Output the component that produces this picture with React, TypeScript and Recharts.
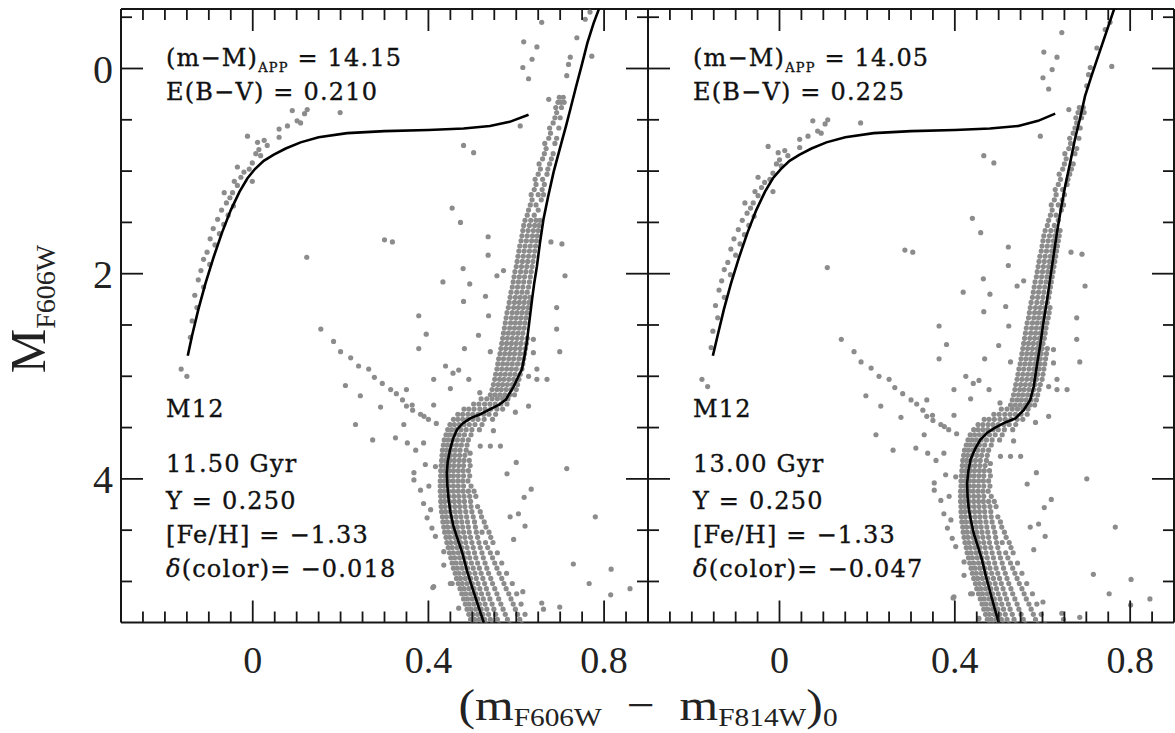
import React from 'react';
import { ScatterChart, Scatter, XAxis, YAxis } from 'recharts';

type Pt = { x: number; y: number };

// axis ticks (colour on x, absolute magnitude on y)
const X_TICKS = [-0.25, -0.2, -0.15, -0.1, -0.05, 0, 0.05, 0.1, 0.15, 0.2, 0.25, 0.3, 0.35, 0.4, 0.45, 0.5, 0.55, 0.6, 0.65, 0.7, 0.75, 0.8, 0.85];
const X_LABELS = [0, 0.4, 0.8];
const Y_TICKS = [-0.5, 0, 0.5, 1, 1.5, 2, 2.5, 3, 3.5, 4, 4.5, 5];
const Y_LABELS = [0, 2, 4];

// M12 stars: [colour, M]
const HB_STARS: [number, number][] = [
  [0.090, 0.41], [0.124, 0.40], [0.118, 0.44], [0.101, 0.51], [0.109, 0.53], [0.079, 0.56], [0.060, 0.59],
  [0.199, 0.43], [-0.012, 0.66], [0.011, 0.72], [0.026, 0.70], [0.060, 0.67], [0.014, 0.79], [0.033, 0.75],
  [0.007, 0.83], [0.018, 0.85], [-0.001, 0.92], [-0.035, 0.96], [-0.020, 1.01], [-0.008, 0.98], [-0.027, 1.06],
  [-0.001, 1.10], [-0.042, 1.10], [-0.035, 1.14], [-0.065, 1.21], [-0.046, 1.21], [-0.052, 1.26], [-0.060, 1.31],
  [-0.044, 1.34], [-0.071, 1.38], [-0.056, 1.43], [-0.080, 1.47], [-0.066, 1.52], [-0.090, 1.56], [-0.076, 1.61],
  [-0.097, 1.66], [-0.086, 1.72], [-0.104, 1.79], [-0.112, 1.86], [-0.098, 1.91], [-0.118, 1.97], [-0.124, 2.06],
  [-0.112, 2.13], [-0.132, 2.21], [-0.127, 2.33], [-0.138, 2.46], [-0.142, 2.62], [-0.163, 2.93], [-0.150, 3.00],
];

const FIELD_STARS: [number, number][] = [
  [0.658, -0.45], [0.617, -0.26], [0.647, -0.21], [0.636, -0.09], [0.615, -0.01], [0.628, 0.10], [0.609, 0.56],
  [0.480, 0.75], [0.503, 0.82], [0.454, 1.36], [0.473, 1.50], [0.536, 1.64], [0.536, 1.82], [0.479, 1.95],
  [0.433, 2.08], [0.494, 2.10], [0.556, 2.02], [0.571, 1.97], [0.530, 2.22], [0.480, 2.27], [0.378, 2.41],
  [0.537, 2.41], [0.395, 2.59], [0.514, 2.60], [0.378, 2.73], [0.482, 2.73], [0.541, 2.76], [0.439, 2.90],
  [0.469, 2.94], [0.412, 3.03], [0.456, 2.97], [0.492, 3.03], [0.450, 3.12], [0.517, 3.16], [0.350, 3.13],
  [0.679, 1.69], [0.704, 1.71], [0.711, 2.02], [0.692, 2.33], [0.692, 2.54], [0.699, 2.76], [0.639, 2.64],
  [0.639, 2.77], [0.647, 2.93], [0.670, 3.03], [0.647, 3.03], [0.628, 3.00], [0.772, -0.12], [0.738, -0.30],
  [0.757, -0.48], [0.768, -0.55], [0.719, -0.04], [0.723, -0.11], [0.715, 0.07], [0.674, 0.30],
  [0.300, 1.67], [0.318, 1.69], [0.123, 1.84],
  [0.155, 2.54], [0.184, 2.66], [0.200, 2.76], [0.223, 2.82], [0.241, 2.90], [0.264, 2.93], [0.277, 3.01],
  [0.295, 3.07], [0.314, 3.13], [0.327, 3.17], [0.341, 3.23], [0.350, 3.29], [0.364, 3.33], [0.382, 3.37],
  [0.400, 3.42], [0.418, 3.46], [0.211, 3.09], [0.245, 3.19], [0.291, 3.30], [0.234, 3.47], [0.273, 3.62],
  [0.325, 3.60], [0.363, 3.28], [0.412, 3.28], [0.344, 3.47], [0.390, 3.39], [0.352, 3.65], [0.371, 3.72],
  [0.389, 3.65], [0.367, 3.94], [0.367, 4.01], [0.393, 3.86], [0.416, 3.88], [0.382, 4.11], [0.401, 4.07],
  [0.389, 4.24], [0.405, 4.30], [0.397, 4.38], [0.408, 4.48], [0.416, 4.56], [0.435, 4.71], [0.412, 5.05],
  [0.450, 5.02], [0.469, 5.26], [0.628, 3.29], [0.598, 3.35], [0.548, 3.53], [0.518, 3.68], [0.541, 3.68],
  [0.564, 3.68], [0.600, 3.84], [0.495, 3.75], [0.579, 3.95], [0.715, 3.90], [0.634, 4.10], [0.618, 4.18],
  [0.586, 4.37], [0.605, 4.34], [0.620, 4.46], [0.594, 4.59], [0.780, 4.37], [0.730, 4.83], [0.816, 4.88],
  [0.766, 5.02], [0.815, 5.13], [0.859, 5.07], [0.615, 5.10], [0.658, 5.21], [0.662, 5.27], [0.699, 5.25],
  [0.410, 5.06], [0.435, 4.84], [0.454, 5.02],
];

// dense giant branch: [M, colour, colour, ...]
const RGB_ROWS: number[][] = [
  [3.18, 0.541, 0.552, 0.563, 0.574, 0.585, 0.596], [3.13, 0.545, 0.556, 0.566, 0.577, 0.588, 0.600],
  [3.08, 0.548, 0.559, 0.569, 0.580, 0.591, 0.603], [3.03, 0.551, 0.562, 0.572, 0.583, 0.594, 0.606],
  [2.98, 0.553, 0.564, 0.575, 0.586, 0.597, 0.609], [2.93, 0.556, 0.567, 0.578, 0.589, 0.600, 0.613],
  [2.88, 0.558, 0.569, 0.580, 0.591, 0.603, 0.615], [2.83, 0.560, 0.571, 0.583, 0.594, 0.606, 0.617],
  [2.78, 0.563, 0.574, 0.585, 0.596, 0.608, 0.619], [2.73, 0.565, 0.576, 0.587, 0.598, 0.609, 0.621],
  [2.68, 0.567, 0.578, 0.589, 0.600, 0.611, 0.623], [2.63, 0.569, 0.580, 0.591, 0.602, 0.613, 0.625],
  [2.58, 0.571, 0.582, 0.593, 0.604, 0.615], [2.53, 0.573, 0.585, 0.596, 0.607, 0.618],
  [2.48, 0.575, 0.587, 0.598, 0.609, 0.620], [2.43, 0.577, 0.589, 0.600, 0.611, 0.622],
  [2.38, 0.579, 0.591, 0.602, 0.613, 0.624], [2.33, 0.582, 0.594, 0.605, 0.616, 0.627],
  [2.28, 0.584, 0.596, 0.607, 0.618, 0.629], [2.23, 0.586, 0.598, 0.609, 0.620, 0.631],
  [2.18, 0.588, 0.601, 0.613, 0.625], [2.13, 0.591, 0.603, 0.615, 0.628], [2.08, 0.593, 0.605, 0.617, 0.630],
  [2.03, 0.595, 0.607, 0.619, 0.632], [1.98, 0.597, 0.610, 0.622, 0.634], [1.93, 0.600, 0.612, 0.624, 0.636],
  [1.88, 0.602, 0.614, 0.626, 0.638], [1.83, 0.604, 0.616, 0.628, 0.640], [1.78, 0.606, 0.618, 0.630, 0.642],
  [1.73, 0.608, 0.620, 0.632, 0.644], [1.68, 0.611, 0.623, 0.635, 0.646], [1.63, 0.613, 0.625, 0.637, 0.648],
  [1.58, 0.615, 0.627, 0.639, 0.650], [1.53, 0.617, 0.630, 0.642, 0.652], [1.48, 0.620, 0.633, 0.645, 0.654],
  [1.43, 0.625, 0.641], [1.38, 0.628, 0.650], [1.33, 0.632, 0.645], [1.28, 0.636, 0.657],
  [1.23, 0.634, 0.650, 0.662], [1.18, 0.641, 0.659], [1.13, 0.645, 0.664], [1.08, 0.643, 0.660],
  [1.03, 0.650, 0.670], [0.98, 0.655, 0.672], [0.93, 0.652, 0.676], [0.88, 0.660, 0.680],
  [0.83, 0.664, 0.684], [0.78, 0.668], [0.73, 0.665, 0.688], [0.68, 0.674, 0.692], [0.63, 0.678],
  [0.58, 0.676, 0.697], [0.53, 0.684], [0.48, 0.688, 0.700], [0.43, 0.692], [0.38, 0.690, 0.703],
  [0.33, 0.695, 0.702, 0.709], [0.28, 0.698, 0.707],
];

// dense subgiant branch and main sequence: [M, colour, colour, ...]
const MS_ROWS: number[][] = [
  [3.22, 0.520, 0.533, 0.545, 0.557, 0.569, 0.581], [3.27, 0.503, 0.515, 0.528, 0.540, 0.552, 0.565, 0.579],
  [3.32, 0.481, 0.492, 0.504, 0.517, 0.529, 0.542, 0.556, 0.569], [3.37, 0.467, 0.478, 0.490, 0.501, 0.513, 0.526, 0.538, 0.553],
  [3.42, 0.457, 0.467, 0.478, 0.489, 0.501, 0.513, 0.527, 0.546], [3.47, 0.449, 0.459, 0.470, 0.481, 0.493, 0.506, 0.522],
  [3.52, 0.444, 0.453, 0.463, 0.474, 0.486, 0.499, 0.516], [3.57, 0.440, 0.449, 0.459, 0.470, 0.482, 0.497],
  [3.62, 0.436, 0.445, 0.455, 0.466, 0.478, 0.491], [3.67, 0.434, 0.443, 0.453, 0.464, 0.475, 0.488],
  [3.72, 0.432, 0.441, 0.451, 0.461, 0.472, 0.486], [3.77, 0.431, 0.440, 0.450, 0.460, 0.471, 0.483],
  [3.82, 0.430, 0.439, 0.449, 0.459, 0.470, 0.481, 0.493], [3.87, 0.429, 0.438, 0.448, 0.458, 0.469, 0.480, 0.495],
  [3.92, 0.428, 0.437, 0.447, 0.457, 0.468, 0.479, 0.491], [3.97, 0.428, 0.437, 0.447, 0.457, 0.468, 0.480, 0.494],
  [4.02, 0.427, 0.436, 0.446, 0.456, 0.467, 0.478, 0.490], [4.07, 0.427, 0.436, 0.446, 0.457, 0.468, 0.480, 0.497],
  [4.12, 0.427, 0.436, 0.446, 0.457, 0.468, 0.479, 0.491, 0.504], [4.17, 0.428, 0.437, 0.447, 0.458, 0.469, 0.481, 0.494, 0.508],
  [4.22, 0.428, 0.437, 0.448, 0.459, 0.470, 0.482, 0.496], [4.27, 0.429, 0.438, 0.449, 0.460, 0.471, 0.483, 0.497, 0.512],
  [4.32, 0.430, 0.439, 0.450, 0.461, 0.472, 0.485, 0.499, 0.518], [4.37, 0.432, 0.441, 0.452, 0.463, 0.474, 0.487, 0.502, 0.521],
  [4.42, 0.433, 0.442, 0.453, 0.464, 0.476, 0.489, 0.505, 0.527], [4.47, 0.435, 0.444, 0.455, 0.466, 0.478, 0.491, 0.507, 0.531],
  [4.52, 0.437, 0.446, 0.457, 0.468, 0.480, 0.493, 0.509, 0.522, 0.538], [4.57, 0.440, 0.449, 0.460, 0.471, 0.483, 0.496, 0.512, 0.542],
  [4.62, 0.442, 0.451, 0.462, 0.473, 0.485, 0.499, 0.515, 0.530, 0.547], [4.67, 0.445, 0.454, 0.465, 0.476, 0.488, 0.502, 0.518, 0.535],
  [4.72, 0.448, 0.457, 0.468, 0.479, 0.491, 0.505, 0.522, 0.541, 0.557], [4.77, 0.451, 0.460, 0.471, 0.482, 0.494, 0.508, 0.525, 0.546],
  [4.82, 0.454, 0.463, 0.474, 0.485, 0.498, 0.512, 0.529, 0.551, 0.567], [4.87, 0.457, 0.466, 0.477, 0.489, 0.502, 0.516, 0.533, 0.556],
  [4.92, 0.461, 0.470, 0.481, 0.493, 0.506, 0.520, 0.537, 0.561, 0.578], [4.97, 0.464, 0.473, 0.484, 0.496, 0.509, 0.524, 0.542, 0.567],
  [5.02, 0.468, 0.477, 0.488, 0.500, 0.513, 0.528, 0.546, 0.572, 0.591], [5.07, 0.472, 0.481, 0.492, 0.504, 0.517, 0.532, 0.551, 0.577],
  [5.12, 0.476, 0.485, 0.496, 0.508, 0.521, 0.536, 0.556, 0.583, 0.601], [5.17, 0.480, 0.489, 0.500, 0.512, 0.525, 0.540, 0.560, 0.588],
  [5.22, 0.484, 0.493, 0.504, 0.516, 0.529, 0.545, 0.565, 0.593, 0.611], [5.27, 0.488, 0.497, 0.508, 0.520, 0.533, 0.549, 0.570, 0.598],
  [5.32, 0.492, 0.501, 0.512, 0.524, 0.537, 0.553, 0.575, 0.603, 0.620], [5.37, 0.496, 0.505, 0.516, 0.528, 0.541, 0.557, 0.580, 0.608],
  [5.42, 0.500, 0.509, 0.520, 0.532, 0.545, 0.561, 0.585, 0.613],
];

// isochrones: [colour, M]
const ISO_1150: [number, number][] = [
  [0.526, 5.40], [0.512, 5.22], [0.499, 5.05], [0.488, 4.90], [0.477, 4.72], [0.466, 4.58], [0.457, 4.46],
  [0.450, 4.32], [0.446, 4.20], [0.443, 4.06], [0.442, 3.94], [0.444, 3.83], [0.449, 3.72], [0.456, 3.61],
  [0.465, 3.52], [0.478, 3.46], [0.495, 3.41], [0.518, 3.37], [0.541, 3.32], [0.560, 3.28], [0.576, 3.23],
  [0.594, 3.10], [0.605, 3.00], [0.613, 2.93], [0.619, 2.80], [0.624, 2.67], [0.630, 2.46], [0.636, 2.25],
  [0.641, 2.09], [0.647, 1.93], [0.654, 1.70], [0.662, 1.47], [0.673, 1.24], [0.685, 1.01], [0.695, 0.85],
  [0.705, 0.69], [0.714, 0.55], [0.723, 0.40], [0.736, 0.18], [0.749, -0.03], [0.762, -0.25], [0.776, -0.44],
  [0.790, -0.60],
];
const HB_1150: [number, number][] = [
  [-0.148, 2.80], [-0.138, 2.60], [-0.124, 2.35], [-0.108, 2.10], [-0.090, 1.85], [-0.070, 1.60], [-0.050, 1.38],
  [-0.030, 1.20], [-0.012, 1.07], [0.005, 0.98], [0.025, 0.90], [0.048, 0.84], [0.075, 0.78], [0.109, 0.72],
  [0.150, 0.67], [0.215, 0.63], [0.300, 0.61], [0.400, 0.60], [0.480, 0.585], [0.540, 0.56], [0.585, 0.52],
  [0.628, 0.45],
];
const ISO_1300: [number, number][] = [
  [0.500, 5.40], [0.490, 5.25], [0.481, 5.11], [0.471, 4.95], [0.462, 4.79], [0.452, 4.65], [0.443, 4.53],
  [0.437, 4.41], [0.432, 4.30], [0.429, 4.17], [0.428, 4.04], [0.431, 3.92], [0.436, 3.81], [0.446, 3.71],
  [0.458, 3.62], [0.474, 3.55], [0.492, 3.50], [0.515, 3.45], [0.538, 3.41], [0.557, 3.33], [0.572, 3.23],
  [0.580, 3.10], [0.587, 2.90], [0.595, 2.69], [0.602, 2.48], [0.610, 2.27], [0.617, 2.06], [0.625, 1.83],
  [0.633, 1.60], [0.642, 1.37], [0.652, 1.14], [0.663, 0.92], [0.674, 0.69], [0.686, 0.48], [0.697, 0.27],
  [0.712, 0.07], [0.727, -0.12], [0.746, -0.36], [0.765, -0.60],
];
const HB_1300: [number, number][] = [
  [-0.152, 2.80], [-0.141, 2.60], [-0.127, 2.35], [-0.111, 2.10], [-0.093, 1.85], [-0.073, 1.60], [-0.053, 1.38],
  [-0.033, 1.20], [-0.015, 1.07], [0.003, 0.98], [0.023, 0.90], [0.046, 0.84], [0.073, 0.78], [0.107, 0.72],
  [0.150, 0.67], [0.215, 0.63], [0.300, 0.61], [0.400, 0.60], [0.480, 0.585], [0.545, 0.56], [0.590, 0.51],
  [0.629, 0.44],
];

const FITS = [
  { dm: 14.15, ebv: 0.210, age: '11.50', helium: '0.250', feh: '−1.33', dcol: '−0.018', iso: ISO_1150, hb: HB_1150 },
  { dm: 14.05, ebv: 0.225, age: '13.00', helium: '0.250', feh: '−1.33', dcol: '−0.047', iso: ISO_1300, hb: HB_1300 },
];

// ratio E(F606W-F814W)/E(B-V)
const COLOUR_EXCESS = 0.93;

const pairs = (a: [number, number][]): Pt[] => a.map(([x, y]) => ({ x, y }));
const rows = (r: number[][]): Pt[] => r.flatMap(([y, ...xs]) => xs.map((x) => ({ x, y })));
const BASE_STARS: Pt[] = [...rows(MS_ROWS), ...rows(RGB_ROWS), ...pairs(HB_STARS), ...pairs(FIELD_STARS)];

// same photometry, de-reddened with each panel's distance modulus and E(B-V)
const starsFor = (fit: typeof FITS[number]): Pt[] => {
  const dy = FITS[0].dm - fit.dm;
  const dx = -(fit.ebv - FITS[0].ebv) * COLOUR_EXCESS;
  return BASE_STARS.map((p) => ({ x: p.x + dx, y: p.y + dy }));
};

const INK = '#161616';
const SERIF = 'Liberation Serif, Times New Roman, serif';
const TEXT_FONT = 'DejaVu Serif, serif';

const Star = (p: any) => <circle cx={p.cx} cy={p.cy} r={2.6} fill="#8c8c8c" />;
const NoDot = () => <g />;

const xTick = (side: 'top' | 'bottom', labelled: boolean) => (p: any) => {
  const v = p.payload.value;
  const major = X_LABELS.includes(v);
  const len = major ? 22 : 11;
  const dir = side === 'bottom' ? -1 : 1;
  return (
    <g>
      <line x1={p.x} x2={p.x} y1={p.y} y2={p.y + dir * len} stroke={INK} strokeWidth={1.8} />
      {labelled && major && (
        <text x={p.x} y={p.y + 50} textAnchor="middle" fontFamily={SERIF} fontSize={38} fill="#222">
          {String(v)}
        </text>
      )}
    </g>
  );
};

const yTick = (side: 'left' | 'right', labelled: boolean) => (p: any) => {
  const v = p.payload.value;
  const major = Y_LABELS.includes(v);
  const len = major ? 22 : 11;
  const dir = side === 'left' ? 1 : -1;
  return (
    <g>
      <line x1={p.x} x2={p.x + dir * len} y1={p.y} y2={p.y} stroke={INK} strokeWidth={1.8} />
      {labelled && major && (
        <text x={p.x - 8} y={p.y + 14} textAnchor="end" fontFamily={SERIF} fontSize={40} fill="#222">
          {String(v)}
        </text>
      )}
    </g>
  );
};

const axisLine = { stroke: INK, strokeWidth: 2 };

function Panel({ fit, first }: { fit: typeof FITS[number]; first: boolean }) {
  // each axis takes 1px, so margins sit 1px outside the plot frame
  const margin = first
    ? { top: 8, right: 11, bottom: 109.5, left: 120 }
    : { top: 8, right: 0, bottom: 109.5, left: 47 };
  return (
    <ScatterChart width={first ? 660 : 575} height={733} margin={margin}>
      <XAxis xAxisId="b" type="number" dataKey="x" domain={[-0.3, 0.9]} allowDataOverflow ticks={X_TICKS}
        interval={0} height={1} tickSize={0} tickMargin={0} tickLine={false} axisLine={axisLine} tick={xTick('bottom', true)} />
      <XAxis xAxisId="t" orientation="top" type="number" dataKey="x" domain={[-0.3, 0.9]} allowDataOverflow ticks={X_TICKS}
        interval={0} height={1} tickSize={0} tickMargin={0} tickLine={false} axisLine={axisLine} tick={xTick('top', false)} />
      <YAxis yAxisId="l" type="number" dataKey="y" domain={[-0.58, 5.4]} reversed allowDataOverflow ticks={Y_TICKS}
        interval={0} width={1} tickSize={0} tickMargin={0} tickLine={false} axisLine={axisLine} tick={yTick('left', first)} />
      <YAxis yAxisId="r" orientation="right" type="number" dataKey="y" domain={[-0.58, 5.4]} reversed allowDataOverflow ticks={Y_TICKS}
        interval={0} width={1} tickSize={0} tickMargin={0} tickLine={false} axisLine={axisLine} tick={yTick('right', false)} />
      <Scatter xAxisId="b" yAxisId="l" data={starsFor(fit)} shape={Star} isAnimationActive={false} />
      <Scatter xAxisId="b" yAxisId="l" data={pairs(fit.hb)} shape={NoDot} line={{ stroke: '#000', strokeWidth: 2.6 }}
        lineType="joint" isAnimationActive={false} />
      <Scatter xAxisId="b" yAxisId="l" data={pairs(fit.iso)} shape={NoDot} line={{ stroke: '#000', strokeWidth: 2.6 }}
        lineType="joint" isAnimationActive={false} />
      <Scatter xAxisId="t" yAxisId="r" data={[]} isAnimationActive={false} />
    </ScatterChart>
  );
}

function PanelText({ x0, fit }: { x0: number; fit: typeof FITS[number] }) {
  const t = {
    fontFamily: TEXT_FONT, fontSize: 24, fill: '#111', stroke: '#111', strokeWidth: 0.35,
    style: { letterSpacing: '1.2px', whiteSpace: 'pre' as const },
  };
  return (
    <g>
      <text x={x0} y={66} {...t}>
        (m−M)<tspan fontSize={13} dy={6}>APP</tspan>
        <tspan dy={-6}>{` = ${fit.dm.toFixed(2)}`}</tspan>
      </text>
      <text x={x0} y={100} {...t}>{`E(B−V) = ${fit.ebv.toFixed(3)}`}</text>
      <text x={x0} y={417} {...t}>M12</text>
      <text x={x0} y={472} {...t}>{`${fit.age} Gyr`}</text>
      <text x={x0} y={509} {...t}>{`Y = ${fit.helium}`}</text>
      <text x={x0} y={543} {...t}>{`[Fe/H] = ${fit.feh}`}</text>
      <text x={x0} y={577} {...t}>
        <tspan fontStyle="italic">δ</tspan>{`(color)= ${fit.dcol}`}
      </text>
    </g>
  );
}

export default function App() {
  return (
    <div style={{ position: 'absolute', left: 0, top: 0, width: 1175, height: 733, background: '#fff' }}>
      <div style={{ position: 'absolute', left: 0, top: 0 }}>
        <Panel fit={FITS[0]} first />
      </div>
      <div style={{ position: 'absolute', left: 600, top: 0 }}>
        <Panel fit={FITS[1]} first={false} />
      </div>
      <svg width={1175} height={733} style={{ position: 'absolute', left: 0, top: 0, pointerEvents: 'none' }}>
        <PanelText x0={166} fit={FITS[0]} />
        <PanelText x0={693} fit={FITS[1]} />
        <g transform="translate(648, 720) scale(1.13, 1)">
          <text x={0} y={0} textAnchor="middle" fontFamily={SERIF} fontSize={44} fill="#222" style={{ whiteSpace: 'pre' }}>
            (m<tspan fontSize={26} dy={6}>F606W</tspan>
            <tspan dy={-6}>{'  −  m'}</tspan>
            <tspan fontSize={26} dy={6}>F814W</tspan>
            <tspan dy={-6}>)</tspan>
            <tspan fontSize={26} dy={6}>0</tspan>
          </text>
        </g>
        <text transform="translate(45, 309) rotate(-90)" textAnchor="middle" fontFamily={SERIF} fontSize={50} fill="#222">
          M<tspan fontSize={28} dy={10}>F606W</tspan>
        </text>
      </svg>
    </div>
  );
}
